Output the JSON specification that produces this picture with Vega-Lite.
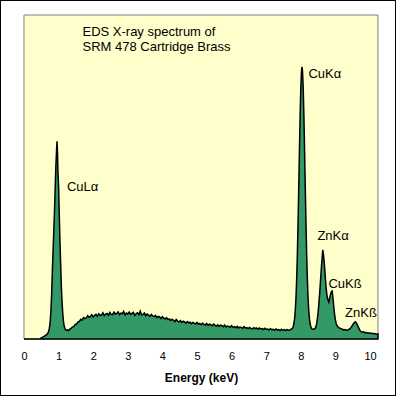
{
  "$schema": "https://vega.github.io/schema/vega-lite/v6.json",
  "width": 396,
  "height": 396,
  "padding": 0,
  "autosize": {"type": "none"},
  "background": "white",
  "config": {
    "view": {"stroke": "black", "strokeWidth": 2, "fill": "white"},
    "axis": {"grid": false}
  },
  "resolve": {"axis": {"x": "independent", "y": "independent"}},
  "datasets": {
    "spectrum": [
      {"E":0,"c":0},{"E":0.40,"c":0},{"E":0.46,"c":0.1},{"E":0.50,"c":0.3},{"E":0.54,"c":0.6},{"E":0.58,"c":0.8},{"E":0.62,"c":1.1},{"E":0.66,"c":1.4},{"E":0.70,"c":2.0},{"E":0.72,"c":2.6},{"E":0.74,"c":3.8},{"E":0.76,"c":5.8},{"E":0.78,"c":9},{"E":0.80,"c":14},{"E":0.82,"c":21},{"E":0.84,"c":27},{"E":0.86,"c":33},{"E":0.88,"c":39},{"E":0.90,"c":46},{"E":0.92,"c":53},{"E":0.94,"c":58},{"E":0.955,"c":61},{"E":0.97,"c":57},{"E":0.98,"c":52},{"E":1.00,"c":47},{"E":1.02,"c":38},{"E":1.04,"c":30},{"E":1.06,"c":23},{"E":1.08,"c":16},{"E":1.10,"c":11.5},{"E":1.12,"c":8},{"E":1.14,"c":5.5},{"E":1.16,"c":4.0},{"E":1.18,"c":3.3},{"E":1.20,"c":2.9},{"E":1.23,"c":2.7},{"E":1.26,"c":2.8},{"E":1.29,"c":2.6},
      {"E":1.32,"c":3.0},{"E":1.36,"c":3.3},{"E":1.40,"c":3.7},{"E":1.44,"c":3.9},{"E":1.48,"c":4.5},{"E":1.52,"c":4.6},{"E":1.56,"c":5.3},{"E":1.60,"c":5.4},{"E":1.64,"c":6.1},{"E":1.68,"c":5.8},{"E":1.72,"c":6.6},{"E":1.76,"c":6.3},{"E":1.80,"c":6.5},{"E":1.84,"c":7.2},{"E":1.88,"c":6.7},{"E":1.92,"c":7.0},{"E":1.96,"c":7.5},{"E":2.00,"c":6.8},{"E":2.04,"c":7.3},{"E":2.08,"c":7.6},{"E":2.12,"c":7.0},{"E":2.16,"c":7.8},{"E":2.20,"c":7.3},{"E":2.24,"c":7.4},{"E":2.28,"c":8.1},{"E":2.32,"c":7.2},{"E":2.36,"c":7.7},{"E":2.40,"c":7.9},{"E":2.44,"c":7.3},{"E":2.48,"c":8.2},{"E":2.52,"c":7.6},{"E":2.56,"c":7.5},{"E":2.60,"c":8.3},{"E":2.64,"c":7.7},{"E":2.68,"c":7.9},{"E":2.72,"c":8.4},{"E":2.76,"c":7.5},{"E":2.80,"c":8.0},{"E":2.84,"c":7.8},{"E":2.88,"c":8.5},{"E":2.92,"c":7.4},{"E":2.96,"c":8.0},{"E":3.00,"c":7.7},{"E":3.04,"c":8.3},{"E":3.08,"c":7.6},{"E":3.12,"c":7.9},{"E":3.16,"c":8.2},{"E":3.20,"c":7.3},{"E":3.24,"c":7.8},{"E":3.28,"c":8.1},{"E":3.32,"c":7.5},{"E":3.36,"c":8.6},{"E":3.40,"c":7.4},{"E":3.44,"c":7.6},{"E":3.48,"c":8.0},{"E":3.52,"c":7.2},{"E":3.56,"c":7.7},{"E":3.60,"c":7.4},{"E":3.64,"c":7.0},{"E":3.68,"c":7.6},{"E":3.72,"c":7.1},{"E":3.76,"c":6.9},{"E":3.80,"c":7.3},{"E":3.84,"c":6.6},{"E":3.88,"c":7.0},{"E":3.92,"c":6.8},{"E":3.96,"c":6.3},{"E":4.00,"c":6.9},{"E":4.04,"c":6.4},{"E":4.08,"c":6.2},{"E":4.12,"c":6.6},{"E":4.16,"c":6.0},{"E":4.20,"c":6.2},{"E":4.24,"c":5.7},{"E":4.28,"c":6.1},{"E":4.32,"c":5.8},{"E":4.36,"c":5.4},{"E":4.40,"c":6.0},{"E":4.44,"c":5.5},{"E":4.48,"c":5.3},{"E":4.52,"c":5.7},{"E":4.56,"c":5.1},{"E":4.60,"c":5.5},{"E":4.64,"c":5.3},{"E":4.68,"c":4.9},{"E":4.72,"c":5.4},{"E":4.76,"c":5.0},{"E":4.80,"c":5.2},{"E":4.84,"c":4.7},{"E":4.88,"c":5.1},{"E":4.92,"c":4.9},{"E":4.96,"c":4.6},{"E":5.00,"c":5.1},{"E":5.04,"c":4.6},{"E":5.08,"c":4.8},{"E":5.12,"c":4.4},{"E":5.16,"c":4.9},{"E":5.20,"c":4.5},{"E":5.24,"c":4.3},{"E":5.28,"c":4.8},{"E":5.32,"c":4.2},{"E":5.36,"c":4.6},{"E":5.40,"c":4.4},{"E":5.44,"c":4.1},{"E":5.48,"c":4.6},{"E":5.52,"c":4.2},{"E":5.56,"c":4.0},{"E":5.60,"c":4.4},{"E":5.64,"c":3.9},{"E":5.68,"c":4.3},{"E":5.72,"c":4.1},{"E":5.76,"c":3.8},{"E":5.80,"c":4.3},{"E":5.84,"c":3.7},{"E":5.88,"c":4.0},{"E":5.92,"c":3.9},{"E":5.96,"c":3.6},{"E":6.00,"c":4.1},{"E":6.04,"c":3.6},{"E":6.08,"c":3.8},{"E":6.12,"c":3.5},{"E":6.16,"c":3.9},{"E":6.20,"c":3.4},{"E":6.24,"c":3.7},{"E":6.28,"c":3.6},{"E":6.32,"c":3.3},{"E":6.36,"c":3.8},{"E":6.40,"c":3.4},{"E":6.44,"c":3.5},{"E":6.48,"c":3.2},{"E":6.52,"c":3.6},{"E":6.56,"c":3.3},{"E":6.60,"c":3.1},{"E":6.64,"c":3.5},{"E":6.68,"c":3.2},{"E":6.72,"c":3.4},{"E":6.76,"c":3.0},{"E":6.80,"c":3.4},{"E":6.84,"c":3.1},{"E":6.88,"c":3.2},{"E":6.92,"c":2.9},{"E":6.96,"c":3.3},{"E":7.00,"c":3.0},{"E":7.04,"c":3.1},{"E":7.08,"c":2.8},{"E":7.12,"c":3.2},{"E":7.16,"c":2.9},{"E":7.20,"c":3.0},{"E":7.24,"c":2.7},{"E":7.28,"c":3.1},{"E":7.32,"c":2.8},{"E":7.36,"c":2.9},{"E":7.40,"c":2.6},{"E":7.44,"c":3.0},{"E":7.48,"c":2.7},{"E":7.52,"c":2.9},{"E":7.56,"c":2.6},{"E":7.60,"c":2.9},{"E":7.64,"c":2.7},{"E":7.68,"c":2.8},
      {"E":7.70,"c":2.9},{"E":7.72,"c":3.0},{"E":7.74,"c":3.1},{"E":7.76,"c":3.3},{"E":7.78,"c":3.8},{"E":7.80,"c":4.7},{"E":7.82,"c":6.2},{"E":7.84,"c":8.7},{"E":7.86,"c":12.6},{"E":7.88,"c":18.3},{"E":7.90,"c":25.8},{"E":7.92,"c":35.4},{"E":7.94,"c":46.3},{"E":7.96,"c":57.8},{"E":7.98,"c":68.6},{"E":8.00,"c":77.3},{"E":8.02,"c":82.6},{"E":8.035,"c":84},{"E":8.05,"c":82.6},{"E":8.07,"c":77.3},{"E":8.09,"c":68.6},{"E":8.11,"c":57.8},{"E":8.13,"c":46.3},{"E":8.15,"c":35.4},{"E":8.17,"c":25.8},{"E":8.19,"c":18.3},{"E":8.21,"c":12.6},{"E":8.23,"c":8.7},{"E":8.25,"c":6.2},{"E":8.27,"c":4.7},{"E":8.29,"c":3.8},{"E":8.31,"c":3.3},{"E":8.33,"c":3.1},{"E":8.36,"c":3.0},{"E":8.38,"c":3.0},
      {"E":8.40,"c":3.2},{"E":8.42,"c":3.4},{"E":8.44,"c":3.9},{"E":8.46,"c":4.8},{"E":8.48,"c":6.3},{"E":8.50,"c":8.2},{"E":8.52,"c":10.6},{"E":8.54,"c":13.4},{"E":8.56,"c":16.4},{"E":8.58,"c":19.6},{"E":8.60,"c":22.8},{"E":8.62,"c":25.5},{"E":8.635,"c":27.5},{"E":8.65,"c":26.4},{"E":8.67,"c":24.5},{"E":8.69,"c":21.8},{"E":8.71,"c":18.8},{"E":8.73,"c":16.0},{"E":8.75,"c":14.0},{"E":8.77,"c":12.6},{"E":8.79,"c":12.0},{"E":8.81,"c":11.4},{"E":8.83,"c":12.4},{"E":8.85,"c":13.4},{"E":8.87,"c":14.2},{"E":8.89,"c":14.7},{"E":8.905,"c":14.8},{"E":8.92,"c":13.6},{"E":8.94,"c":11.5},{"E":8.96,"c":9.2},{"E":8.98,"c":7.3},{"E":9.00,"c":5.9},{"E":9.02,"c":4.9},{"E":9.04,"c":4.3},{"E":9.07,"c":3.8},{"E":9.10,"c":3.5},{"E":9.13,"c":3.3},{"E":9.16,"c":3.2},
      {"E":9.20,"c":3.0},{"E":9.24,"c":2.8},{"E":9.28,"c":2.9},{"E":9.32,"c":2.7},{"E":9.36,"c":2.8},{"E":9.40,"c":3.0},{"E":9.44,"c":3.4},{"E":9.48,"c":4.0},{"E":9.52,"c":4.7},{"E":9.55,"c":5.1},{"E":9.58,"c":5.3},{"E":9.61,"c":4.9},{"E":9.64,"c":4.3},{"E":9.67,"c":3.5},{"E":9.70,"c":2.8},{"E":9.74,"c":2.3},{"E":9.78,"c":2.1},{"E":9.82,"c":2.2},{"E":9.86,"c":1.9},{"E":9.90,"c":2.0},{"E":9.94,"c":1.8},{"E":9.98,"c":1.9},{"E":10.02,"c":1.7},{"E":10.06,"c":1.8},{"E":10.10,"c":1.6},{"E":10.14,"c":1.7},{"E":10.18,"c":1.5},{"E":10.23,"c":1.6}
    ],
    "labels": [
      {"E":1.69,"c":94.8,"t":"EDS X-ray spectrum of"},
      {"E":1.69,"c":90.1,"t":"SRM 478 Cartridge Brass"},
      {"E":8.22,"c":81.8,"t":"CuKα"},
      {"E":1.24,"c":46.8,"t":"CuLα"},
      {"E":8.48,"c":31.9,"t":"ZnKα"},
      {"E":8.80,"c":17.0,"t":"CuKß"},
      {"E":9.28,"c":7.9,"t":"ZnKß"}
    ]
  },
  "layer": [
    {
      "data": {"values": [{}]},
      "mark": {"type": "rect", "fill": "#FFFFCC", "stroke": "#808080", "strokeWidth": 1},
      "encoding": {
        "x": {"datum": 0, "type": "quantitative", "axis": null,
          "scale": {"domain": [-0.6936, 10.7514], "nice": false, "zero": false}},
        "x2": {"datum": 10.23},
        "y": {"datum": 0, "type": "quantitative", "axis": null,
          "scale": {"domain": [-17.59, 104.63], "nice": false, "zero": false}},
        "y2": {"datum": 100}
      }
    },
    {
      "data": {"name": "spectrum"},
      "mark": {"type": "area", "fill": "#339966", "stroke": "black", "strokeWidth": 1.5, "fillOpacity": 1},
      "encoding": {
        "x": {"field": "E", "type": "quantitative",
          "axis": {
            "orient": "bottom", "offset": -57, "values": [0,1,2,3,4,5,6,7,8,9,10],
            "domain": false, "ticks": false, "tickSize": 0, "grid": false,
            "labelFont": "Liberation Sans", "labelFontSize": 11, "labelColor": "black",
            "labelPadding": 11, "labelFlush": false,
            "title": "Energy (keV)", "titleFont": "Liberation Sans", "titleFontSize": 12,
            "titleFontWeight": "bold", "titleColor": "black",
            "titleX": 201, "titleY": 42, "titleBaseline": "alphabetic", "titleAlign": "center"
          }
        },
        "y": {"field": "c", "type": "quantitative", "axis": null}
      }
    },
    {
      "data": {"name": "labels"},
      "mark": {"type": "text", "align": "left", "baseline": "middle", "font": "Liberation Sans", "fontSize": 13, "color": "black"},
      "encoding": {
        "x": {"field": "E", "type": "quantitative", "axis": null},
        "y": {"field": "c", "type": "quantitative", "axis": null},
        "text": {"field": "t"}
      }
    }
  ]
}
